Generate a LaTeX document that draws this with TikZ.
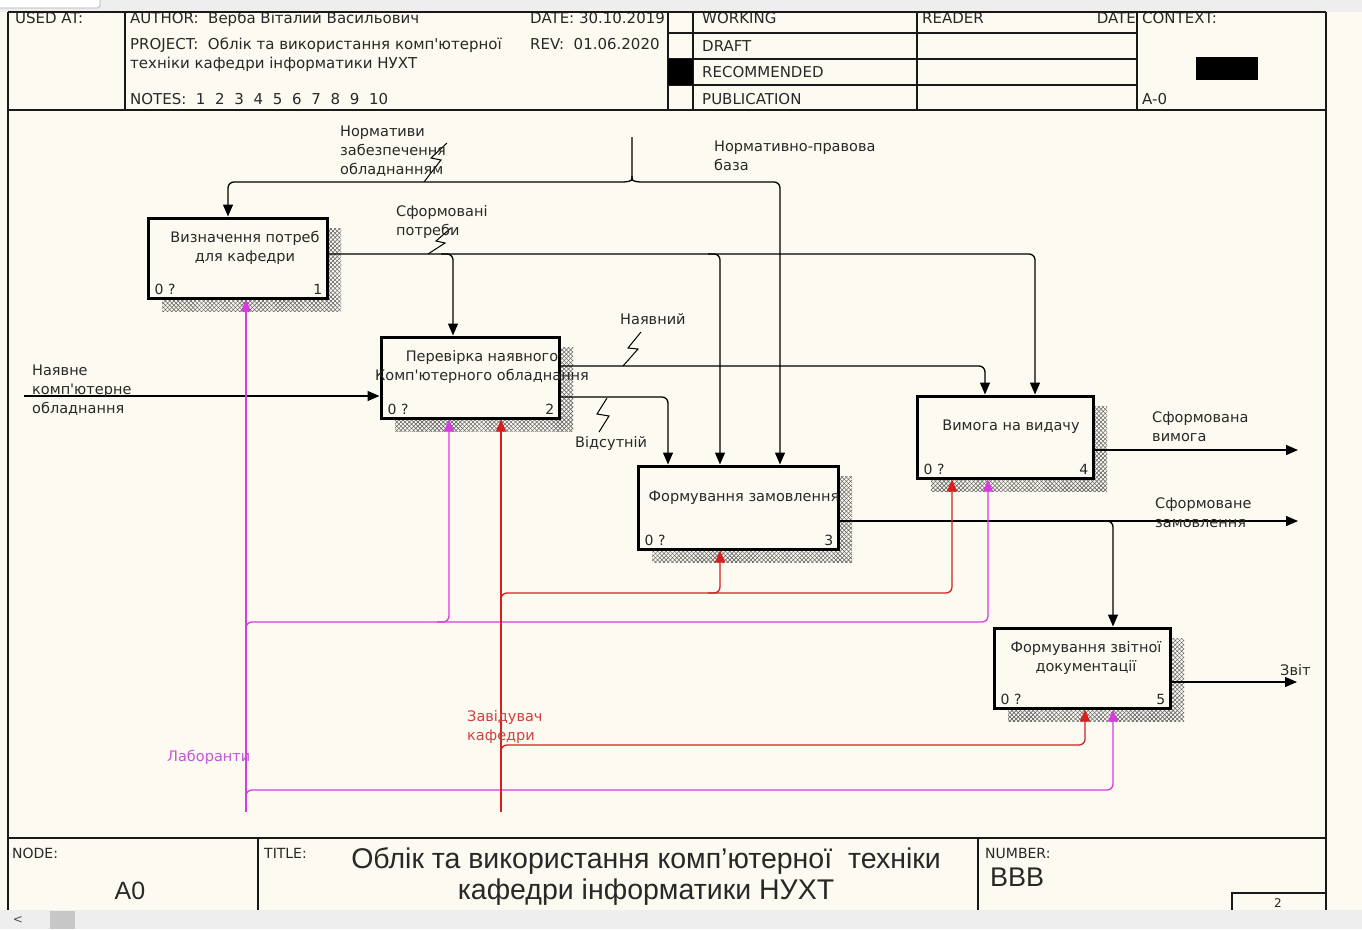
\documentclass[tikz,border=0pt]{standalone}
\usepackage{fontspec}
\setmainfont{Liberation Sans}
\newfontfamily\lblfam{DejaVu Sans}
\usetikzlibrary{arrows.meta,patterns.meta,calc}

\definecolor{paper}{RGB}{253,250,241}
\definecolor{chrome}{RGB}{238,238,238}
\definecolor{ink}{RGB}{25,25,25}
\definecolor{txt}{RGB}{40,40,40}
\definecolor{mech}{RGB}{212,60,222}
\definecolor{mechtxt}{RGB}{196,84,222}
\definecolor{boss}{RGB}{214,32,32}
\definecolor{bosstxt}{RGB}{212,64,64}

\newcommand\nsp{\hspace{9.7pt}}

\tikzset{
  hdr/.style={font=\lblfam\fontsize{15}{17}\selectfont, anchor=base west, inner sep=0pt, text=txt},
  small/.style={hdr, font=\lblfam\fontsize{14}{16}\selectfont},
  lbl/.style={font=\lblfam\fontsize{14.5}{19}\selectfont, anchor=north west, inner sep=0pt, align=left, text=txt},
  acttxt/.style={font=\lblfam\fontsize{14.5}{19}\selectfont, inner sep=0pt, align=center, text=txt},
  corner/.style={font=\lblfam\fontsize{14}{16}\selectfont, inner sep=0pt, text=txt},
  actbox/.style={draw=black, line width=3pt, fill=paper, inner sep=0pt},
  hatchA/.style={pattern={Lines[angle=45,distance=3pt,line width=0.6pt]}, pattern color=black!60},
  hatchB/.style={pattern={Lines[angle=-45,distance=3pt,line width=0.6pt]}, pattern color=black!60},
  rule/.style={draw=ink, line width=1.5pt},
  tip/.style={-{Triangle[length=12pt,width=10pt]}},
  pipe/.style={draw=black, line width=1.3pt, rounded corners=6pt},
  flow/.style={pipe, tip},
  mpipe/.style={pipe, draw=mech},
  mflow/.style={mpipe, tip},
  rpipe/.style={pipe, draw=boss},
  rflow/.style={rpipe, tip},
  squig/.style={draw=black, line width=1pt},
}

% hatched drop shadow offset from an activity box
\newcommand\boxshadow[4]{%
  \fill[hatchA] (#1,#2) rectangle (#3,#4);
  \fill[hatchB] (#1,#2) rectangle (#3,#4);
}

\begin{document}
\begin{tikzpicture}[x=1pt,y=-1pt]
\useasboundingbox (0,0) rectangle (1362,929);
\fill[paper] (0,0) rectangle (1362,929);

% ---------- header block ----------
\node[hdr] (usedat) at (15,23) {USED AT:};
\node[hdr] (author) at (130,23) {AUTHOR:\ \ Верба Віталий Васильович};
\node[hdr] (date) at (530,23) {DATE: 30.10.2019};
\node[hdr] (project) at (130,49) {PROJECT:\ \ Облік та використання комп'ютерної};
\node[hdr] (project2) at (130,68) {техніки кафедри інформатики НУХТ};
\node[hdr] (rev) at (530,49) {REV:\ \ 01.06.2020};
\node[hdr] (notes) at (130,104) {NOTES:\ \ 1\nsp2\nsp3\nsp4\nsp5\nsp6\nsp7\nsp8\nsp9\nsp10};
\node[hdr] (working) at (702,23) {WORKING};
\node[hdr] (draft) at (702,51) {DRAFT};
\node[hdr] (recom) at (702,77) {RECOMMENDED};
\node[hdr] (publ) at (702,104) {PUBLICATION};
\node[hdr] (reader) at (922,23) {READER};
\node[hdr, anchor=base east] (rdate) at (1136,23) {DATE};
\node[hdr] (context) at (1142,23) {CONTEXT:};
\node[hdr] (aminus) at (1142,104) {A-0};

\draw[rule] (125,12) -- (125,110);
\draw[rule] (668,12) -- (668,110);
\draw[rule] (693,12) -- (693,110);
\draw[rule] (917,12) -- (917,110);
\draw[rule] (1137,12) -- (1137,110);
\draw[rule] (668,33) -- (1137,33);
\draw[rule] (668,59) -- (1137,59);
\draw[rule] (668,85) -- (1137,85);
\fill[black] (668,59) rectangle (693,85);
\fill[black] (1196,57) rectangle (1258,80);
\draw[rule] (8,110) -- (1326,110);

% window strip along the top edge
\fill[chrome] (0,0) rectangle (1362,12);
\fill[white] (0,0) rectangle (100,8);
\draw[black!30, line width=0.8pt] (0,8) -- (98,8) -- (100,6) -- (100,0);
\draw[rule] (8,12) -- (1326,12);
\draw[rule] (8,12) -- (8,910);
\draw[rule] (1326,12) -- (1326,910);

% ---------- activity shadows ----------
\boxshadow{162}{228}{341}{311}
\boxshadow{395}{347}{573}{431}
\boxshadow{652}{476}{852}{562}
\boxshadow{931}{406}{1107}{491}
\boxshadow{1008}{638}{1184}{721}

% ---------- activity boxes ----------
\node[actbox, minimum width=179pt, minimum height=80pt] (b1) at (237.5,258) {};
\node[actbox, minimum width=178pt, minimum height=81pt] (b2) at (470,377.5) {};
\node[actbox, minimum width=200pt, minimum height=83pt] (b3) at (738,507.5) {};
\node[actbox, minimum width=176pt, minimum height=82pt] (b4) at (1005,437) {};
\node[actbox, minimum width=176pt, minimum height=80pt] (b5) at (1082,668) {};

% ---------- connectors: controls ----------
\coordinate (ctlsrc) at (632,137);
\coordinate (forkL) at (624,182);
\coordinate (forkR) at (640,182);
\draw[pipe, rounded corners=0pt] (ctlsrc) -- (632,176) .. controls (632,181) .. (forkL);
\draw[pipe, rounded corners=0pt] (632,176) .. controls (632,181) .. (forkR);
\draw[flow] (forkL) -- (228,182) -- (228,0 |- b1.north);
\draw[flow] (forkR) -- (780,182) -- (780,0 |- b3.north);

% ---------- connectors: outputs of 1 ----------
\draw[flow] (b1.east |- 0,254) -- (1035,254) -- (1035,0 |- b4.north);
\draw[flow] (441,254) -- (453,254) -- (453,0 |- b2.north);
\draw[flow] (708,254) -- (720,254) -- (720,0 |- b3.north);

% ---------- connectors: outputs of 2 ----------
\draw[flow] (b2.east |- 0,366) -- (985,366) -- (985,0 |- b4.north);
\draw[flow] (b2.east |- 0,397) -- (668,397) -- (668,0 |- b3.north);

% ---------- input ----------
\coordinate (inpt) at (24,396);
\draw[flow] (inpt) -- (b2.west |- inpt);

% ---------- outputs to the boundary ----------
\coordinate (outreq) at (1298,450);
\coordinate (outord) at (1298,521);
\coordinate (outrep) at (1297,682);
\draw[flow] (b4.east |- outreq) -- (outreq);
\draw[flow] (b3.east |- outord) -- (outord);
\draw[flow] (1101,521) -- (1113,521) -- (1113,0 |- b5.north);
\draw[flow] (b5.east |- outrep) -- (outrep);

% ---------- mechanisms: laboratory staff ----------
\coordinate (labsrc) at (246,812);
\draw[mflow] (labsrc) -- (246,0 |- b1.south);
\draw[mflow] (246,628) -- (246,622) -- (988,622) -- (988,0 |- b4.south);
\draw[mflow] (437,622) -- (449,622) -- (449,0 |- b2.south);
\draw[mflow] (246,796) -- (246,790) -- (1113,790) -- (1113,0 |- b5.south);

% ---------- mechanisms: head of department ----------
\coordinate (bosssrc) at (501,812);
\draw[rflow] (bosssrc) -- (501,0 |- b2.south);
\draw[rflow] (501,599) -- (501,593) -- (952,593) -- (952,0 |- b4.south);
\draw[rflow] (708,593) -- (720,593) -- (720,0 |- b3.south);
\draw[rflow] (501,751) -- (501,745) -- (1085,745) -- (1085,0 |- b5.south);

% ---------- label squiggles ----------
\draw[squig] (447,143) -- (431,158) -- (441,160) -- (424,182);
\draw[squig] (451,228) -- (436,241) -- (445,243) -- (428,254);
\draw[squig] (641,332) -- (628,348) -- (638,349) -- (623,366);
\draw[squig] (607,398) -- (597,414) -- (609,416) -- (599,432);

% ---------- activity texts ----------
\node[acttxt] (t1) at (245,248) {Визначення потреб\\для кафедри};
\node[acttxt] (t2) at (482,367) {Перевірка наявного\\Комп'ютерного обладнання};
\node[acttxt] (t3) at (744,498) {Формування замовлення};
\node[acttxt] (t4) at (1011,427) {Вимога на видачу};
\node[acttxt] (t5) at (1086,658) {Формування звітної\\документації};

\foreach \b/\n in {b1/1,b2/2,b3/3,b4/4,b5/5}{
  \node[corner, anchor=base west] (\b-cost) at ($(\b.south west)+(8,-5)$) {0 ?};
  \node[corner, anchor=base east] (\b-num) at ($(\b.south east)+(-6,-5)$) {\n};
}

% ---------- arrow labels ----------
\node[lbl] (l-norm) at (340,126) {Нормативи\\забезпечення\\обладнанням};
\node[lbl] (l-base) at (714,141) {Нормативно-правова\\база};
\node[lbl] (l-need) at (396,205) {Сформовані\\потреби};
\node[lbl] (l-have) at (620,313) {Наявний};
\node[lbl] (l-miss) at (575,436) {Відсутній};
\node[lbl] (l-in) at (32,365) {Наявне\\комп'ютерне\\обладнання};
\node[lbl] (l-req) at (1152,412) {Сформована\\вимога};
\node[lbl] (l-ord) at (1155,498) {Сформоване\\замовлення};
\node[lbl] (l-rep) at (1280,664) {Звіт};
\node[lbl, text=mechtxt] (l-lab) at (167,750) {Лаборанти};
\node[lbl, text=bosstxt] (l-boss) at (467,710) {Завідувач\\кафедри};

% ---------- title block ----------
\draw[rule] (8,838) -- (1326,838);
\draw[rule] (258,838) -- (258,910);
\draw[rule] (978,838) -- (978,910);
\draw[rule] (1232,910) -- (1232,893) -- (1326,893);
\node[small] (nodehdr) at (12,858) {NODE:};
\node[small] (titlehdr) at (264,858) {TITLE:};
\node[small] (numhdr) at (985,858) {NUMBER:};
\node[font=\fontsize{25}{28}\selectfont, text=txt, inner sep=0pt] (nodeid) at (130,891) {A0};
\node[font=\fontsize{28.5}{31}\selectfont, text=txt, inner sep=0pt, align=center] (title) at (646,876)
  {Облік та використання комп'ютерної\ \ техніки\\кафедри інформатики НУХТ};
\node[hdr, font=\fontsize{27}{29}\selectfont] (numid) at (990,886) {BBB};
\node[font=\lblfam\fontsize{12}{14}\selectfont, text=txt, inner sep=0pt] (sheet) at (1278,903) {2};

% window strip along the bottom edge
\fill[chrome] (0,910) rectangle (1362,929);
\fill[black!22] (50,911) rectangle (75,929);
\node[font=\lblfam\fontsize{12}{14}\selectfont, text=black!70, inner sep=0pt] (scroll) at (18,920) {<};
\end{tikzpicture}
\end{document}
